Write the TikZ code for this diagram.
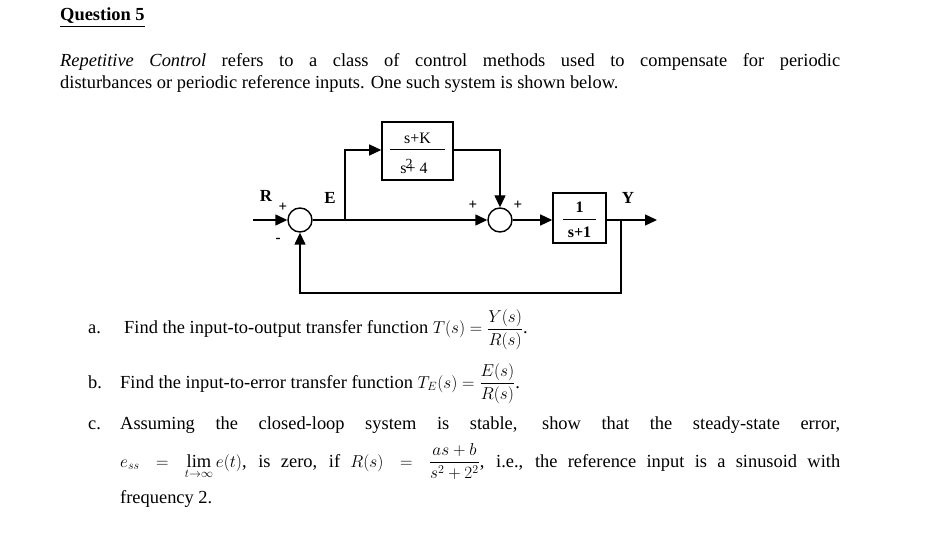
\documentclass[tikz,border=0pt]{standalone}
\usepackage{amsmath}
\usepackage{fontspec}
\setmainfont{Liberation Serif}
\usetikzlibrary{arrows.meta}
\begin{document}
\begin{tikzpicture}[x=1bp,y=-1bp,
  txt/.style={inner sep=0pt,font=\fontsize{18.5}{22}\selectfont},
  blk/.style={draw,line width=1.6pt,inner sep=0pt,font=\fontsize{16}{18}\selectfont},
  sumn/.style={draw,circle,line width=1.4pt,minimum size=24bp,inner sep=0pt},
  sig/.style={line width=1.4pt,-{Triangle[length=12bp,width=11bp]}},
  sgn/.style={inner sep=0pt,font=\bfseries\fontsize{15}{16}\selectfont}]
\useasboundingbox (0,0) rectangle (936,553);
\node[txt,anchor=base west,font=\bfseries\fontsize{18.5}{22}\selectfont] (q) at (60,21) {\underline{Question 5}};
\node[txt,anchor=base west] (p1l) at (60,67) {\makebox[780bp][s]{\textit{Repetitive Control} refers to a class of control methods used to compensate for periodic}};
\node[txt,anchor=base west] (p2l) at (60,89) {disturbances or periodic reference inputs. One such system is shown below.};
% diagram
\node[sumn] (s1) at (300,220) {};
\node[sumn] (s2) at (500,220) {};
\node[blk,minimum width=71bp,minimum height=58bp] (g1) at (417.5,151) {};
\node[txt,font=\fontsize{16}{16}\selectfont] (g1n) at (417.5,138) {s+K};
\node[txt,font=\fontsize{16}{16}\selectfont] (g1d) at (414,166) {s\hspace{-1pt}\raisebox{5pt}{\fontsize{14}{14}\selectfont 2}\hspace{-6pt}+ 4};
\draw[line width=1pt] (390,150) coordinate (bl) -- (445,150) coordinate (br);
\node[blk,minimum width=53bp,minimum height=50bp] (g2) at (579.5,218) {};
\node[txt,font=\bfseries\fontsize{16}{16}\selectfont] (g2n) at (579.5,207) {1};
\node[txt,font=\bfseries\fontsize{16}{16}\selectfont] (g2d) at (579.5,232) {s+1};
\draw[line width=1pt] (563,219) -- (596,219);
\coordinate (in) at (253,220);
\coordinate (eb) at (345,220);
\coordinate (yb) at (621,220);
\coordinate (out) at (657,220);
\draw[sig] (in) -- (s1);
\draw[sig] (s1) -- (s2);
\draw[sig] (eb) |- (g1.west|-bl);
\draw[sig] (g1.east|-br) -| (s2);
\draw[sig] (s2) -- (g2.west|-s2);
\draw[sig] (g2.east|-s2) -- (out);
\draw[sig] (yb) |- (300,293) -- (s1);
\node[sgn,font=\bfseries\fontsize{17}{17}\selectfont] (lr) at (266,196) {R};
\node[sgn] (pl1) at (283,207) {+};
\node[sgn,font=\bfseries\fontsize{17}{17}\selectfont] (le) at (330,198) {E};
\node[sgn] (m1) at (278,240) {-};
\node[sgn] (pl2) at (473,205) {+};
\node[sgn] (pl3) at (518,205) {+};
\node[sgn,font=\bfseries\fontsize{17}{17}\selectfont] (ly) at (628,198) {Y};
% questions
\node[txt,anchor=base west] (a) at (88,334) {a.};
\node[txt,anchor=base west] (at) at (124,334) {Find the input-to-output transfer function $T(s)=\dfrac{Y(s)}{R(s)}$.};
\node[txt,anchor=base west] (b) at (88,388) {b.};
\node[txt,anchor=base west] (bt) at (120,388) {Find the input-to-error transfer function $T_E(s)=\dfrac{E(s)}{R(s)}$.};
\node[txt,anchor=base west] (c) at (88,429) {c.};
\node[txt,anchor=base west] (c1) at (120,429) {\makebox[720bp][s]{Assuming the closed-loop system is stable, show that the steady-state error,}};
\node[txt,anchor=base west] (c2) at (120,467) {\makebox[720bp][s]{$e_{ss}=\lim\limits_{t\to\infty}e(t)$, is zero, if $R(s)=\dfrac{as+b}{s^2+2^2}$, i.e., the reference input is a sinusoid with}};
\node[txt,anchor=base west] (c3) at (120,503) {frequency 2.};
\end{tikzpicture}
\end{document}
